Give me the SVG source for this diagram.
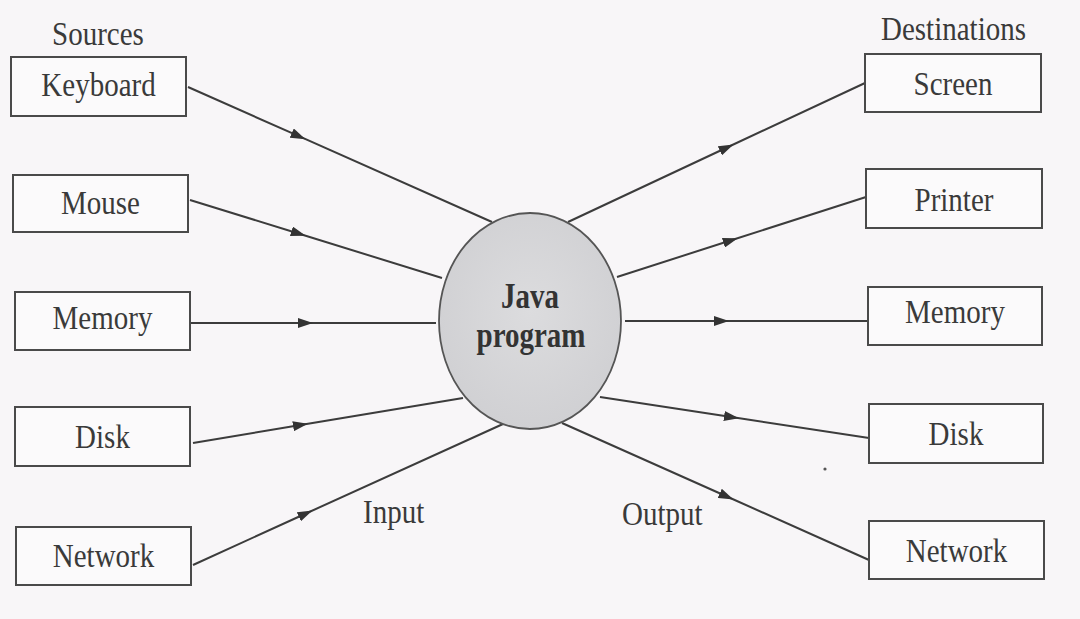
<svg xmlns="http://www.w3.org/2000/svg" width="1080" height="619" viewBox="0 0 1080 619">
  <style>
    .box { fill: #fbfafb; stroke: #4a4a4a; stroke-width: 2; }
    .lbl { font-family: "Liberation Serif", "Times New Roman", serif; font-size: 29px; fill: #3a3a3a; text-anchor: middle; }
    .hdr { font-family: "Liberation Serif", "Times New Roman", serif; font-size: 29px; fill: #3a3a3a; }
    .core { font-family: "Liberation Serif", "Times New Roman", serif; font-size: 29px; font-weight: bold; fill: #333; text-anchor: middle; }
    .flow { fill: none; stroke: #3c3c3c; stroke-width: 2; marker-mid: url(#head); }
  </style>
  <defs>
    <marker id="head" viewBox="0 0 15 10" markerWidth="15" markerHeight="10" refX="9" refY="5" orient="auto" markerUnits="userSpaceOnUse">
      <path d="M0,0 L15,5 L0,10 Z" fill="#333"/>
    </marker>
    <radialGradient id="disc" cx="0.5" cy="0.45" r="0.6">
      <stop offset="0" stop-color="#dcdcde"/>
      <stop offset="1" stop-color="#cfcfd2"/>
    </radialGradient>
  </defs>

  <rect width="1080" height="619" fill="#f8f6f8"/>

  <!-- column headings -->
  <text class="hdr" transform="translate(52,45) scale(1,1.15)">Sources</text>
  <text class="hdr" transform="translate(881,40) scale(1,1.15)">Destinations</text>

  <!-- connectors -->
  <g id="connectors">
    <path class="flow" d="M188,87 L300,136.7 L492,222"/>
    <path class="flow" d="M190,200 L300,234 L442,278"/>
    <path class="flow" d="M190,323 L307,323 L436,323"/>
    <path class="flow" d="M193,443 L302,424.8 L463,398"/>
    <path class="flow" d="M193,565 L307,513 L503,424"/>
    <path class="flow" d="M568,222 L728,147 L865,83"/>
    <path class="flow" d="M617,277 L732,240 L866,197"/>
    <path class="flow" d="M625,321 L723,321 L868,321"/>
    <path class="flow" d="M600,397 L733,417.3 L869,438"/>
    <path class="flow" d="M562,423 L728,497 L869,560"/>
  </g>

  <!-- central process -->
  <g id="java-program">
    <ellipse cx="530" cy="321" rx="91" ry="108" fill="url(#disc)" stroke="#555" stroke-width="1.8"/>
    <text class="core" transform="translate(530,308) scale(1,1.2)">Java</text>
    <text class="core" transform="translate(531,347) scale(1,1.2)">program</text>
  </g>

  <!-- sources -->
  <g id="src-keyboard">
    <rect class="box" x="11" y="57" width="175" height="59"/>
    <text class="lbl" transform="translate(98.5,96) scale(1,1.15)">Keyboard</text>
  </g>
  <g id="src-mouse">
    <rect class="box" x="13" y="175" width="175" height="57"/>
    <text class="lbl" transform="translate(100.5,214) scale(1,1.15)">Mouse</text>
  </g>
  <g id="src-memory">
    <rect class="box" x="15" y="292" width="175" height="58"/>
    <text class="lbl" transform="translate(102.5,329) scale(1,1.15)">Memory</text>
  </g>
  <g id="src-disk">
    <rect class="box" x="15" y="407" width="175" height="59"/>
    <text class="lbl" transform="translate(102.5,448) scale(1,1.15)">Disk</text>
  </g>
  <g id="src-network">
    <rect class="box" x="16" y="527" width="175" height="58"/>
    <text class="lbl" transform="translate(103.5,567) scale(1,1.15)">Network</text>
  </g>

  <!-- destinations -->
  <g id="dst-screen">
    <rect class="box" x="865" y="54" width="176" height="58"/>
    <text class="lbl" transform="translate(953,95) scale(1,1.15)">Screen</text>
  </g>
  <g id="dst-printer">
    <rect class="box" x="866" y="169" width="176" height="59"/>
    <text class="lbl" transform="translate(954,211) scale(1,1.15)">Printer</text>
  </g>
  <g id="dst-memory">
    <rect class="box" x="868" y="287" width="174" height="58"/>
    <text class="lbl" transform="translate(955,323) scale(1,1.15)">Memory</text>
  </g>
  <g id="dst-disk">
    <rect class="box" x="869" y="404" width="174" height="59"/>
    <text class="lbl" transform="translate(956,445) scale(1,1.15)">Disk</text>
  </g>
  <g id="dst-network">
    <rect class="box" x="869" y="521" width="175" height="58"/>
    <text class="lbl" transform="translate(956.5,562) scale(1,1.15)">Network</text>
  </g>

  <!-- direction labels -->
  <text class="hdr" transform="translate(363,523) scale(1,1.15)">Input</text>
  <text class="hdr" transform="translate(622,525) scale(1,1.15)">Output</text>

  <circle cx="825" cy="469" r="1.6" fill="#555"/>
</svg>
